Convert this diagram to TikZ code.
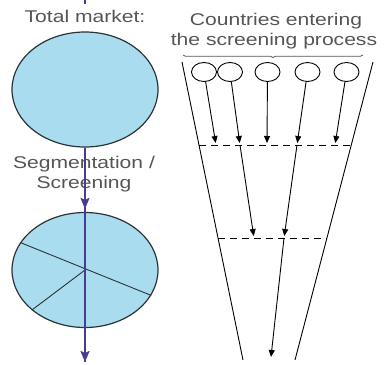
\documentclass[tikz,border=0pt]{standalone}
\usepackage{fontspec}
\setmainfont{Liberation Sans}
\usetikzlibrary{shapes.geometric,arrows.meta,decorations.pathreplacing,positioning}

\definecolor{marketblue}{RGB}{168,220,238}
\definecolor{flowblue}{RGB}{72,60,145}
\definecolor{txtgray}{RGB}{85,85,85}
\definecolor{edgegray}{RGB}{45,50,55}

\tikzset{
  market/.style={draw=edgegray, line width=1.2pt, fill=marketblue, ellipse, minimum width=146pt, minimum height=115pt, inner sep=0pt},
  country/.style={draw=black, line width=0.9pt, ellipse, minimum width=25pt, minimum height=19pt, inner sep=0pt},
  txt/.style={text=txtgray, font=\fontsize{17}{20}\selectfont, xscale=1.24, inner sep=0pt},
  flow/.style={draw=flowblue, line width=2pt, -{Stealth[length=11pt,width=9pt,inset=2pt]}},
  pick/.style={draw=black, line width=0.9pt, -{Triangle[length=7pt,width=6pt]}},
  funnel/.style={draw=black, line width=0.9pt},
  cut/.style={draw=black, line width=0.9pt, dash pattern=on 7pt off 5pt},
}

\begin{document}
\begin{tikzpicture}[x=1pt,y=-1pt]
  \useasboundingbox (0,0) rectangle (384,365);

  % left side: total market and its segments
  \node (total) [txt, anchor=base] at (85,22) {Total market:};
  \node (market) [market] at (85,89.5) {};
  \node (segments) [market] at (85,270) {};
  \node (seg) [txt, anchor=base] at (84,168) {Segmentation /};
  \node (scr) [txt, anchor=base] at (84,188) {Screening};
  \draw[funnel, draw=edgegray] (segments.157) -- (segments.339);
  \draw[funnel, draw=edgegray] (segments.center) -- (segments.217);

  % right side: screening funnel
  \node (head1) [txt, anchor=base] at (276,25) {Countries entering};
  \node (head2) [txt, anchor=base] at (274,45) {the screening process};
  \coordinate (brl) at (183,55);
  \coordinate (brr) at (363,55);
  \draw[txtgray, line width=0.7pt, decorate, decoration={brace, amplitude=2.5pt}] (brr) -- (brl);

  \coordinate (fl1) at (182,62);
  \coordinate (fl2) at (243,360);
  \coordinate (fr1) at (373,62);
  \coordinate (fr2) at (295,360);
  \draw[funnel] (fl1) -- (fl2);
  \draw[funnel] (fr1) -- (fr2);

  \foreach \i/\x in {1/204,2/230,3/267.5,4/307.5,5/346.5}
    \node (c\i) [country] at (\x,72) {};

  % first screening
  \foreach \i/\x in {1/216,2/240,3/267,4/297,5/335}
    \coordinate (a\i) at (\x,145);
  \coordinate (cl1) at (199,145);
  \coordinate (cr1) at (350,145);
  \draw[cut] (cl1) -- (cr1);
  \foreach \i in {1,...,5}
    \draw[pick, shorten >=2pt] (c\i) -- (a\i);

  % second screening
  \coordinate (b2) at (254,238);
  \coordinate (b4) at (284,238);
  \coordinate (cl2) at (218,238);
  \coordinate (cr2) at (327,238);
  \draw[cut] (cl2) -- (cr2);
  \draw[pick, shorten >=2pt] (a2) -- (b2);
  \draw[pick, shorten >=2pt] (a4) -- (b4);

  \coordinate (pickend) at (271,357);
  \draw[pick] (b4) -- (pickend);

  % market flow on top
  \coordinate (stub) at (85,0);
  \coordinate (out) at (85,362);
  \draw[flowblue, line width=2pt] (stub) -- (85,4);
  \draw[flowblue, line width=2pt] (market) -- (out);
  \draw[flow, shorten >=3pt] (market) -- (segments);
  \draw[flow] (segments.north) -- (out);
\end{tikzpicture}
\end{document}
